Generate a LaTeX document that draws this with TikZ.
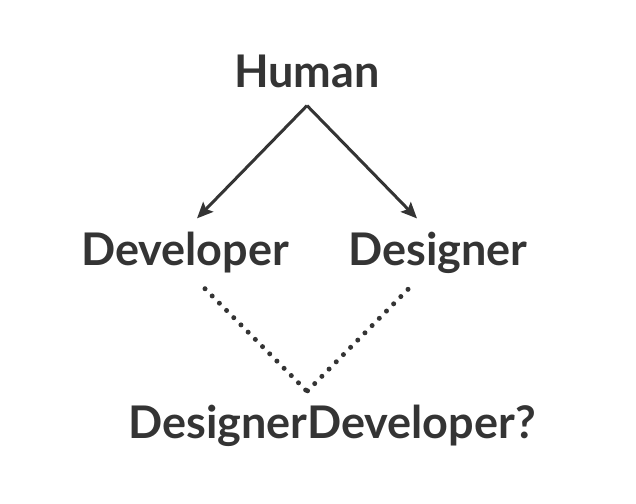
\documentclass[tikz,border=0pt]{standalone}
\usepackage{fontspec}
\setmainfont{Lato}
\usetikzlibrary{calc,arrows.meta}
\definecolor{inkgray}{RGB}{52,52,52}

\tikzset{
  word/.style={font=\fontsize{45}{54}\selectfont\bfseries, text=inkgray, inner sep=0pt, anchor=base},
  arrowline/.style={draw=inkgray, line width=3pt, -{Stealth[length=16pt,width=14pt,inset=3pt]}},
  dotline/.style={draw=inkgray, line width=5pt, line cap=round, dash pattern=on 0pt off 10.2pt}
}

\begin{document}
\begin{tikzpicture}[x=1pt,y=-1pt]
  \useasboundingbox (0,0) rectangle (636,503);

  % --- labels ---
  \node[word] (human) at (307,87) {Human};
  \node[word] (developer) at (185,265) {Developer};
  \node[word] (designer) at (438,265) {Designer};
  \node[word] (hybrid) at (332,438) {DesignerDeveloper?};

  % --- split point and meeting point ---
  \coordinate (split) at ([yshift=-18]human.south);
  \coordinate (meet) at ([xshift=-25,yshift=13]hybrid.north);

  % === solid arrows down from Human ===
  \draw[arrowline] (split) -- ([xshift=12,yshift=13]developer.north);
  \draw[arrowline] (split) -- ([xshift=-21,yshift=13]designer.north);

  % === dotted lines joining below ===
  \draw[dotline] ([xshift=20,yshift=-16]developer.south) -- (meet);
  \draw[dotline] ([xshift=-30,yshift=-16]designer.south) -- (meet);
\end{tikzpicture}
\end{document}
